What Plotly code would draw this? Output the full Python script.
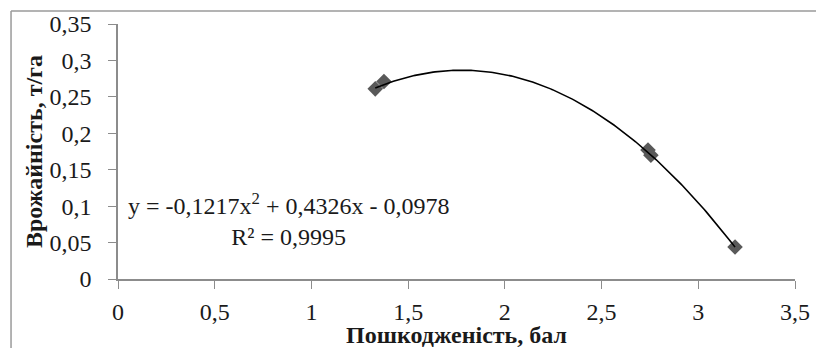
import numpy as np
import plotly.graph_objects as go

# Observed damage score vs. yield
damage = [1.33, 1.375, 2.74, 2.755, 3.19]
yield_t_ha = [0.261, 0.271, 0.177, 0.170, 0.044]

# Polynomial trend (2nd order) coefficients as printed on the chart
coef_a, coef_b, coef_c = -0.1217, 0.4326, -0.0978
r_squared = "0,9995"

x_ticks = [0, 0.5, 1, 1.5, 2, 2.5, 3, 3.5]
x_tick_text = ["0", "0,5", "1", "1,5", "2", "2,5", "3", "3,5"]
y_ticks = [0, 0.05, 0.1, 0.15, 0.2, 0.25, 0.3, 0.35]
y_tick_text = ["0", "0,05", "0,1", "0,15", "0,2", "0,25", "0,3", "0,35"]

FONT = "Liberation Serif"
AXIS_GREY = "#8c8c8c"
TEXT = "#1a1a1a"

xt = np.linspace(min(damage), max(damage), 200)
yt = coef_a * xt**2 + coef_b * xt + coef_c

fig = go.Figure()
fig.add_trace(go.Scatter(
    x=damage, y=yield_t_ha, mode="markers",
    marker=dict(symbol="diamond", size=12, color="#595959"),
    showlegend=False, hoverinfo="x+y",
))
fig.add_trace(go.Scatter(
    x=xt, y=yt, mode="lines",
    line=dict(color="#000000", width=1.6),
    showlegend=False, hoverinfo="skip",
))

tick_font = dict(family=FONT, size=24, color=TEXT)
title_font = dict(family=FONT, size=24, color=TEXT)

fig.update_layout(
    width=816, height=348,
    margin=dict(l=118, r=21, t=24, b=69, autoexpand=False),
    paper_bgcolor="white", plot_bgcolor="white",
    font=dict(family=FONT, size=24, color=TEXT),
    xaxis=dict(
        range=[0, 3.5], tickvals=x_ticks, ticktext=x_tick_text,
        tickfont=tick_font, automargin=False,
        showgrid=False, zeroline=False,
        showline=True, linecolor=AXIS_GREY, linewidth=1.5,
        ticks="outside", ticklen=8, tickcolor=AXIS_GREY, tickwidth=1.2,
        ticklabelstandoff=2,
        title=dict(text="<b>Пошкодженість, бал</b>", font=title_font, standoff=5),
    ),
    yaxis=dict(
        range=[0, 0.35], tickvals=y_ticks, ticktext=y_tick_text,
        tickfont=tick_font, automargin=False,
        showgrid=False, zeroline=False,
        showline=True, linecolor=AXIS_GREY, linewidth=1.5,
        ticks="outside", ticklen=8, tickcolor=AXIS_GREY, tickwidth=1.2,
        ticklabelstandoff=12,
        title=dict(text="<b>Врожайність, т/га</b>", font=title_font, standoff=0),
    ),
    annotations=[
        dict(
            x=0.88, y=0.082, xref="x", yref="y",
            text=(f"y = {coef_a:.4f}x<sup>2</sup> + {coef_b:.4f}x - {abs(coef_c):.4f}"
                  .replace(".", ",")
                  + f"<br>R² = {r_squared}"),
            showarrow=False, align="center", xanchor="center", yanchor="middle",
            font=dict(family=FONT, size=24, color=TEXT),
        )
    ],
    shapes=[
        # chart frame edges (top and left)
        dict(type="line", xref="paper", yref="paper",
             x0=-0.158, x1=1.04, y0=1.051, y1=1.051,
             line=dict(color="#9a9a9a", width=1.5)),
        dict(type="line", xref="paper", yref="paper",
             x0=-0.158, x1=-0.158, y0=1.051, y1=-0.3,
             line=dict(color="#9a9a9a", width=1.5)),
    ],
)

fig.write_html("out.html")
